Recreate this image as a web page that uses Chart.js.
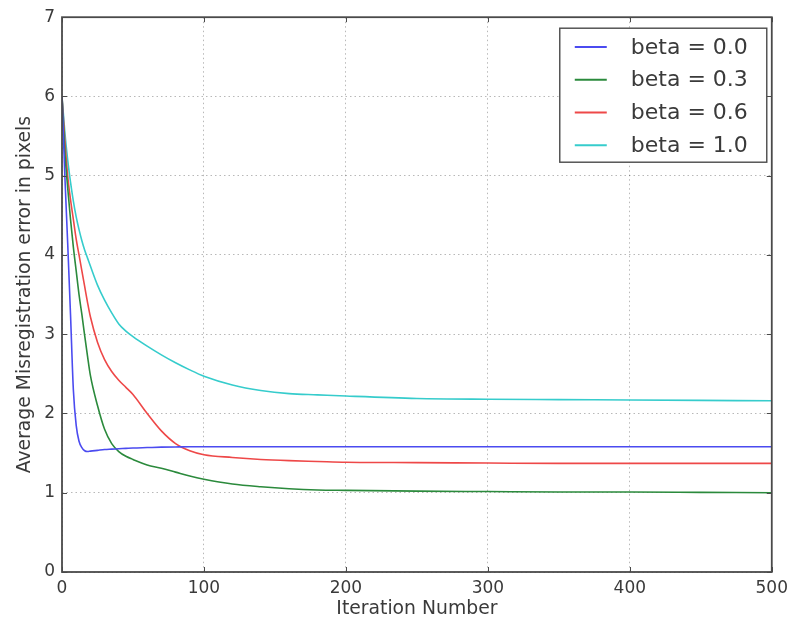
<!DOCTYPE html>
<html>
<head>
<meta charset="utf-8">
<script src="https://cdn.jsdelivr.net/npm/chart.js@4.4.0/dist/chart.umd.min.js"></script>
<style>
html,body{margin:0;padding:0;background:#ffffff;}
#wrap{width:794px;height:619px;}
</style>
</head>
<body>
<div id="wrap"><canvas id="c" width="794" height="619"></canvas></div>
<script>
// ---- data ----
const iterations = [0,2,4,6,8,10,12,14,16,18,20,25,30,35,40,45,50,60,70,80,90,100,120,140,160,180,200,250,300,350,400,450,500];
const beta00 = [6.0,5.0,4.15,3.25,2.3,1.85,1.65,1.57,1.53,1.52,1.525,1.535,1.545,1.55,1.555,1.56,1.565,1.57,1.575,1.578,1.58,1.58,1.58,1.58,1.58,1.58,1.58,1.58,1.58,1.58,1.58,1.58,1.58];
const beta03 = [6.0,5.3,4.85,4.45,4.1,3.8,3.5,3.25,2.98,2.72,2.48,2.1,1.8,1.62,1.52,1.46,1.42,1.35,1.31,1.26,1.21,1.17,1.11,1.075,1.05,1.035,1.03,1.02,1.015,1.01,1.01,1.005,1.0];
const beta06 = [6.0,5.45,5.0,4.7,4.45,4.2,4.0,3.8,3.6,3.4,3.22,2.9,2.68,2.53,2.42,2.33,2.24,2.0,1.78,1.62,1.53,1.48,1.445,1.42,1.405,1.395,1.385,1.38,1.375,1.37,1.37,1.37,1.37];
const beta10 = [6.0,5.55,5.2,4.92,4.68,4.48,4.32,4.18,4.06,3.96,3.86,3.62,3.43,3.27,3.13,3.04,2.97,2.85,2.74,2.64,2.55,2.47,2.36,2.29,2.25,2.235,2.22,2.19,2.18,2.175,2.17,2.165,2.16];
const seriesLabels = ['beta = 0.0','beta = 0.3','beta = 0.6','beta = 1.0'];
const xTickValues = [0,100,200,300,400,500];
const yTickValues = [0,1,2,3,4,5,6,7];
const xTitle = 'Iteration Number';
const yTitle = 'Average Misregistration error in pixels';

const seriesValues = [beta00, beta03, beta06, beta10];
const seriesColors = ['#4b4bf0', '#2b8a3c', '#ee4848', '#36cccc'];
const FONT = '"DejaVu Sans", sans-serif';
const TEXT = '#3a3a3a';

const datasets = seriesValues.map((vals, k) => ({
  label: seriesLabels[k],
  data: iterations.map((x, i) => ({x: x, y: vals[i]})),
  borderColor: seriesColors[k],
  backgroundColor: seriesColors[k],
  borderWidth: 1.6,
  pointRadius: 0,
  fill: false,
  cubicInterpolationMode: 'monotone'
}));

// frame with inward ticks (matplotlib style) + in-plot legend
const framePlugin = {
  id: 'mplFrame',
  afterDatasetsDraw(chart) {
    const ctx = chart.ctx, a = chart.chartArea;
    const xs = chart.scales.x, ys = chart.scales.y;
    ctx.save();
    ctx.strokeStyle = '#4a4a4a';
    ctx.lineWidth = 1;
    xTickValues.forEach(v => {
      const px = Math.round(xs.getPixelForValue(v)) + 0.5;
      ctx.beginPath();
      ctx.moveTo(px, a.bottom); ctx.lineTo(px, a.bottom - 5);
      ctx.moveTo(px, a.top); ctx.lineTo(px, a.top + 5);
      ctx.stroke();
    });
    yTickValues.forEach(v => {
      const py = Math.round(ys.getPixelForValue(v)) + 0.5;
      ctx.beginPath();
      ctx.moveTo(a.left, py); ctx.lineTo(a.left + 5, py);
      ctx.moveTo(a.right, py); ctx.lineTo(a.right - 5, py);
      ctx.stroke();
    });
    ctx.strokeStyle = '#4a4a4a';
    ctx.lineWidth = 1.8;
    ctx.strokeRect(a.left, a.top, a.right - a.left, a.bottom - a.top);
    ctx.restore();
  },
  afterDraw(chart) {
    const ctx = chart.ctx, a = chart.chartArea;
    const x0 = a.right - 212, y0 = a.top + 11, w = 207, h = 134;
    ctx.save();
    ctx.fillStyle = '#ffffff';
    ctx.fillRect(x0, y0, w, h);
    ctx.strokeStyle = '#4a4a4a';
    ctx.lineWidth = 1.4;
    ctx.strokeRect(x0, y0, w, h);
    chart.data.datasets.forEach((ds, i) => {
      const y = y0 + 18.7 + i * 32.8;
      ctx.strokeStyle = ds.borderColor;
      ctx.lineWidth = 2;
      ctx.beginPath();
      ctx.moveTo(x0 + 15, y); ctx.lineTo(x0 + 47, y);
      ctx.stroke();
      ctx.fillStyle = TEXT;
      ctx.font = '22px ' + FONT;
      ctx.textBaseline = 'middle';
      ctx.textAlign = 'left';
      ctx.fillText(ds.label, x0 + 71, y + 1);
    });
    ctx.restore();
  }
};

new Chart(document.getElementById('c'), {
  type: 'line',
  data: { datasets: datasets },
  options: {
    responsive: false,
    animation: false,
    layout: { padding: { top: 17, right: 19, left: 0, bottom: 0 } },
    plugins: { legend: { display: false }, tooltip: { enabled: false } },
    scales: {
      x: {
        type: 'linear',
        min: 0, max: 500,
        afterFit: s => { s.height = 47; },
        afterBuildTicks: s => { s.ticks = xTickValues.map(v => ({value: v})); },
        ticks: { padding: 6, color: TEXT, font: { family: FONT, size: 17 } },
        grid: { color: 'rgba(0,0,0,0.28)', drawTicks: false, lineWidth: 1 },
        border: { display: false, dash: [1.5, 3] },
        title: { display: true, text: xTitle, color: TEXT, font: { family: FONT, size: 18.8, lineHeight: 1.0 }, padding: { top: 0, bottom: 0 } }
      },
      y: {
        type: 'linear',
        min: 0, max: 7,
        afterFit: s => { s.width = 62; },
        afterBuildTicks: s => { s.ticks = yTickValues.map(v => ({value: v})); },
        ticks: { padding: 7, color: TEXT, font: { family: FONT, size: 17 } },
        grid: { color: 'rgba(0,0,0,0.28)', drawTicks: false, lineWidth: 1 },
        border: { display: false, dash: [1.5, 3] },
        title: { display: true, text: yTitle, color: TEXT, font: { family: FONT, size: 18.8, lineHeight: 1.2 }, padding: { top: 14, bottom: 0 } }
      }
    }
  },
  plugins: [framePlugin]
});
</script>
</body>
</html>
